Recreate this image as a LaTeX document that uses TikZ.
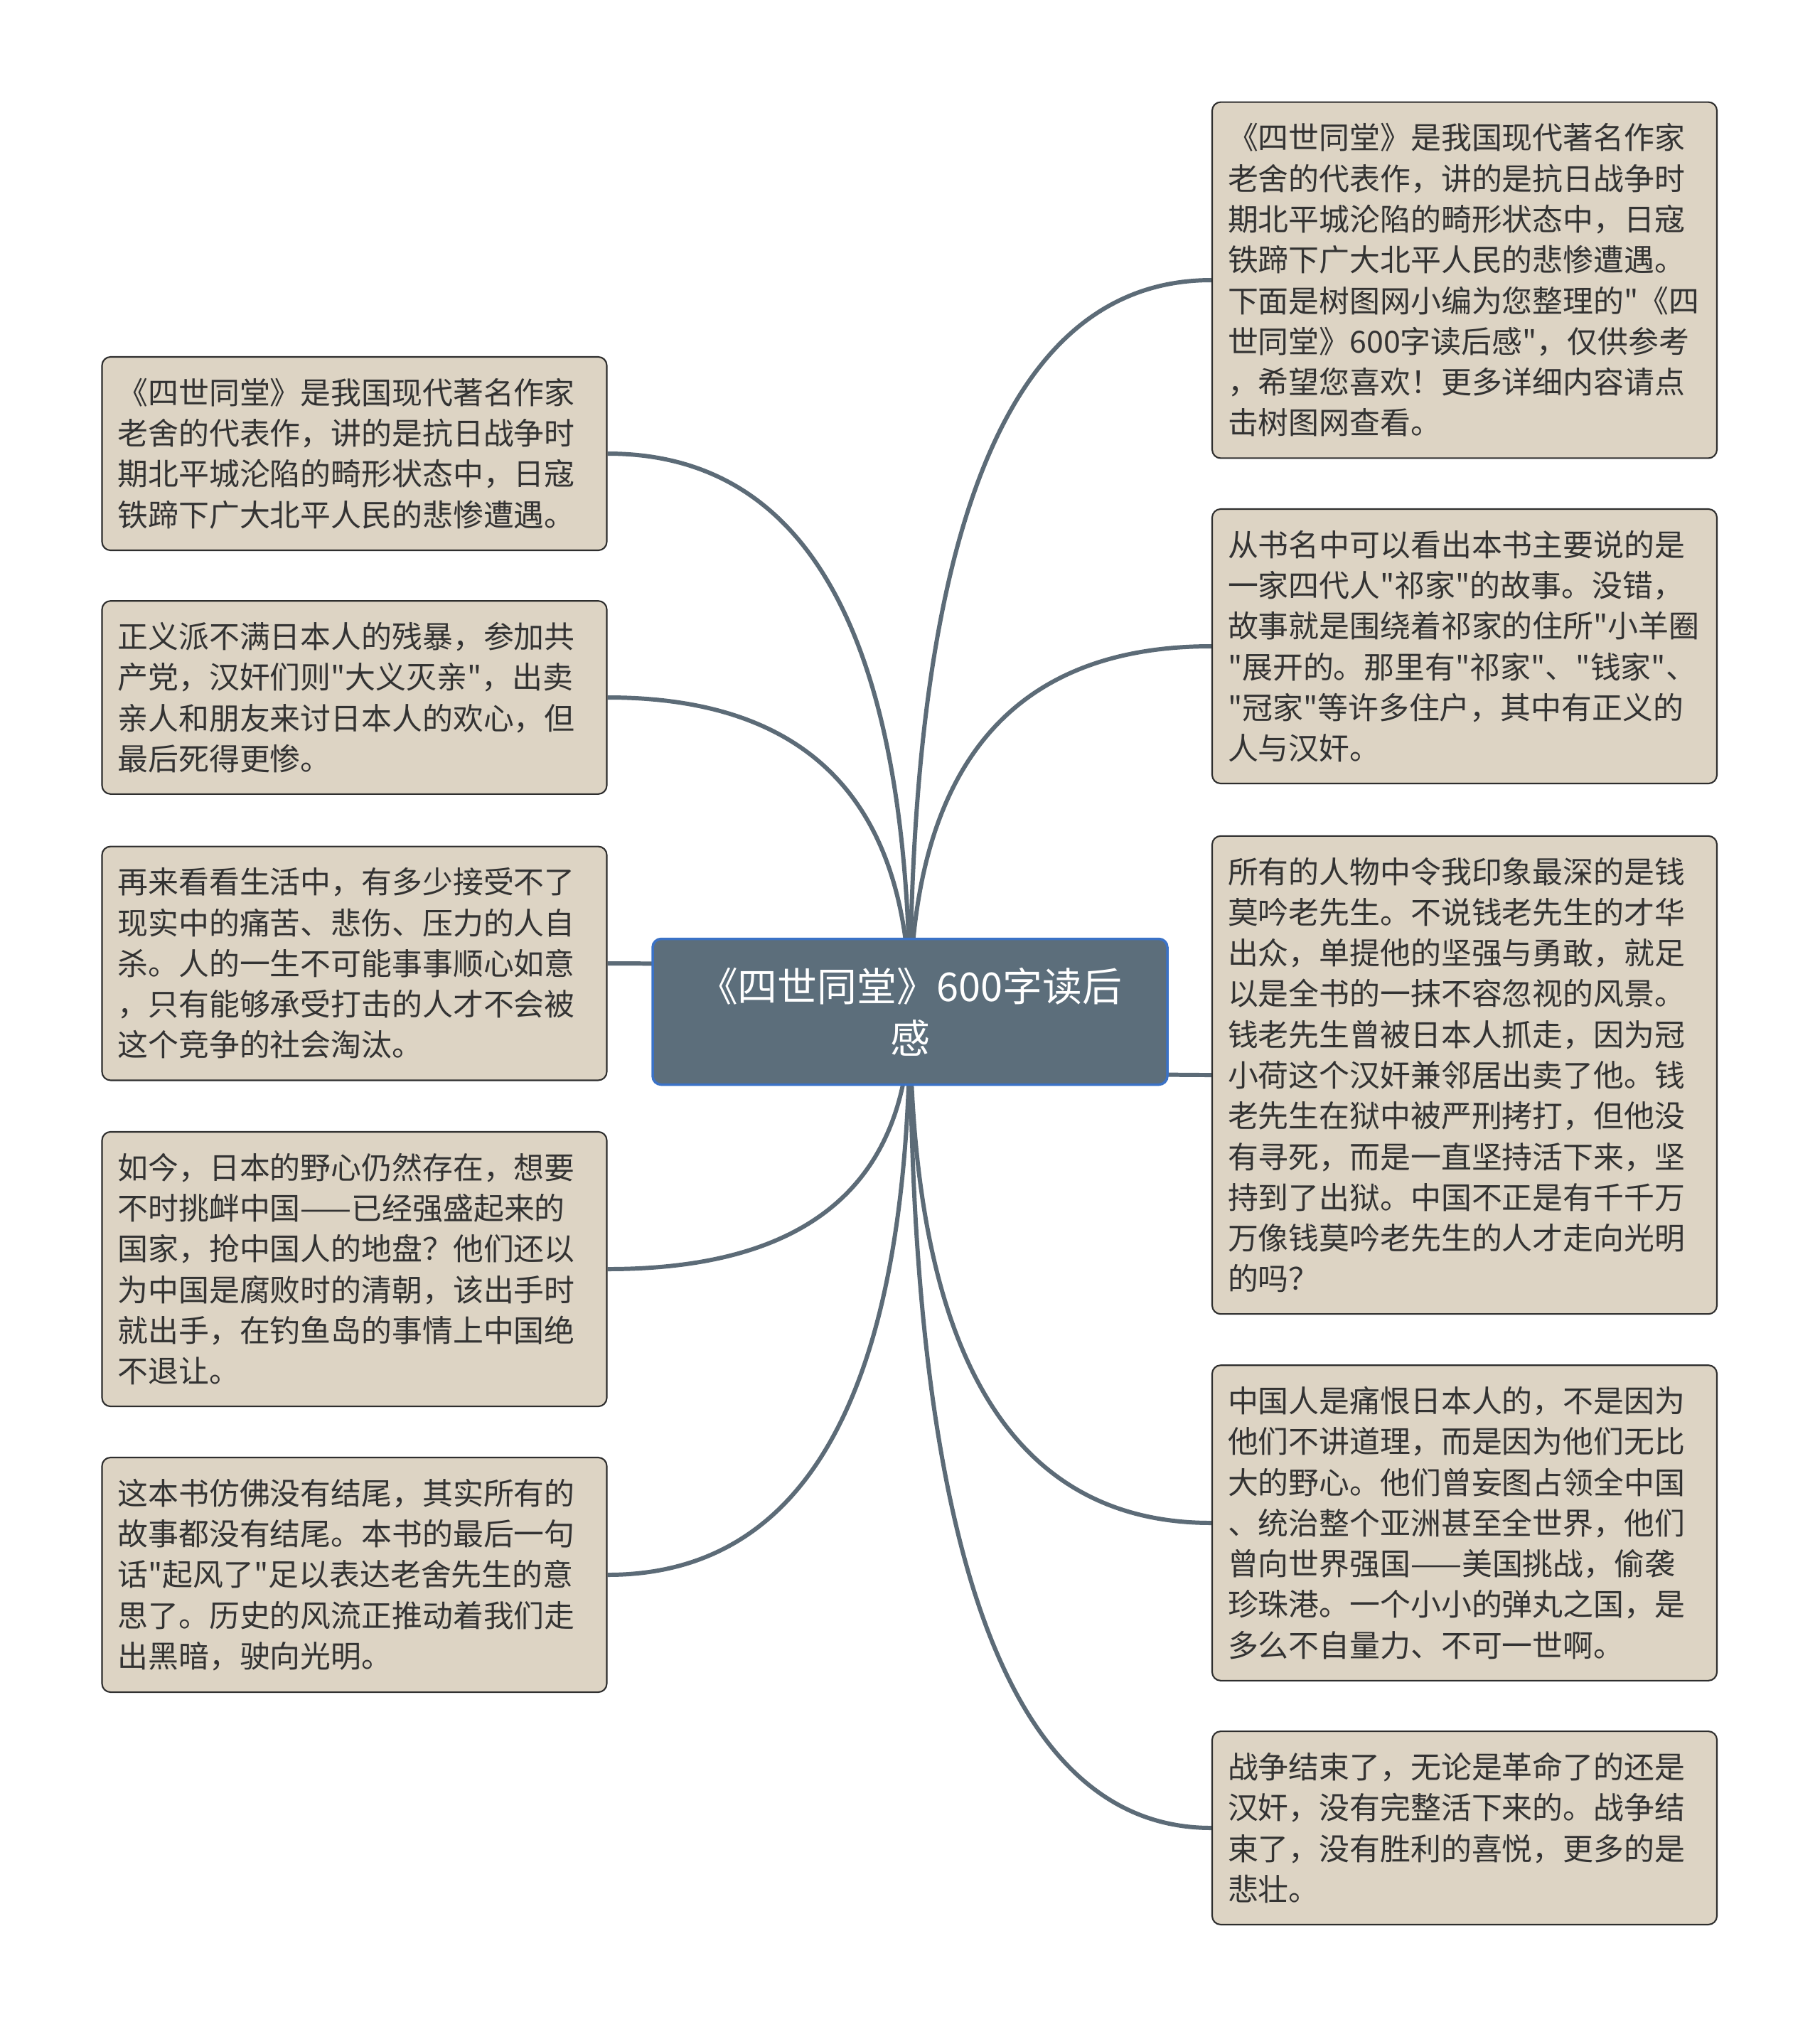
\documentclass[tikz,border=0pt]{standalone}
\usepackage{fontspec}
\newfontfamily\cjkfont{Noto Sans CJK SC}
\usetikzlibrary{calc,backgrounds}

\definecolor{notefill}{HTML}{DDD4C4}
\definecolor{noteline}{HTML}{2E2E2E}
\definecolor{notetext}{HTML}{333333}
\definecolor{rootfill}{HTML}{5C6E7B}
\definecolor{rootline}{HTML}{3B72C6}
\definecolor{linkgray}{HTML}{5C6B77}

\begin{document}
\begin{tikzpicture}[
        note/.style={draw=noteline, line width=0.6pt, fill=notefill, rounded corners=0.12cm,
            text width=6.66cm, inner xsep=0.22cm, inner ysep=0.3cm, align=left, text=notetext,
            font=\cjkfont\fontsize{12.2pt}{16.3pt}\selectfont},
        topic/.style={draw=rootline, line width=1pt, fill=rootfill, rounded corners=0.12cm,
            minimum width=7.24cm, minimum height=2.05cm, align=center, text=white,
            font=\cjkfont\fontsize{15.9pt}{20.7pt}\selectfont},
        branch/.style={draw=linkgray, line width=1.7pt,
            to path={.. controls ($(\tikztostart)!0.667!(\tikztostart |- \tikztotarget)$)
                and ($(\tikztotarget)!0.667!(\tikztostart |- \tikztotarget)$) .. (\tikztotarget)}}
    ]
        \useasboundingbox (0,0) rectangle (25.6,-28.51);

        % Central topic
        \node[topic] (root) at (12.80,-14.23) {《四世同堂》600字读后\\感};

        % Notes on the right
        \node[note] (r1) at (20.60,-3.94) {《四世同堂》是我国现代著名作家\\
老舍的代表作，讲的是抗日战争时\\
期北平城沦陷的畸形状态中，日寇\\
铁蹄下广大北平人民的悲惨遭遇。\\
下面是树图网小编为您整理的"《四\\
世同堂》600字读后感"，仅供参考\\
，希望您喜欢！更多详细内容请点\\
击树图网查看。};
        \node[note] (r2) at (20.60,-9.09) {从书名中可以看出本书主要说的是\\
一家四代人"祁家"的故事。没错，\\
故事就是围绕着祁家的住所"小羊圈\\
"展开的。那里有"祁家"、"钱家"、\\
"冠家"等许多住户，其中有正义的\\
人与汉奸。};
        \node[note] (r3) at (20.60,-15.12) {所有的人物中令我印象最深的是钱\\
莫吟老先生。不说钱老先生的才华\\
出众，单提他的坚强与勇敢，就足\\
以是全书的一抹不容忽视的风景。\\
钱老先生曾被日本人抓走，因为冠\\
小荷这个汉奸兼邻居出卖了他。钱\\
老先生在狱中被严刑拷打，但他没\\
有寻死，而是一直坚持活下来，坚\\
持到了出狱。中国不正是有千千万\\
万像钱莫吟老先生的人才走向光明\\
的吗？};
        \node[note] (r4) at (20.60,-21.42) {中国人是痛恨日本人的，不是因为\\
他们不讲道理，而是因为他们无比\\
大的野心。他们曾妄图占领全中国\\
、统治整个亚洲甚至全世界，他们\\
曾向世界强国——美国挑战，偷袭\\
珍珠港。一个小小的弹丸之国，是\\
多么不自量力、不可一世啊。};
        \node[note] (r5) at (20.60,-25.71) {战争结束了，无论是革命了的还是\\
汉奸，没有完整活下来的。战争结\\
束了，没有胜利的喜悦，更多的是\\
悲壮。};

        % Notes on the left
        \node[note] (l1) at (4.985,-6.38) {《四世同堂》是我国现代著名作家\\
老舍的代表作，讲的是抗日战争时\\
期北平城沦陷的畸形状态中，日寇\\
铁蹄下广大北平人民的悲惨遭遇。};
        \node[note] (l2) at (4.985,-9.81) {正义派不满日本人的残暴，参加共\\
产党，汉奸们则"大义灭亲"，出卖\\
亲人和朋友来讨日本人的欢心，但\\
最后死得更惨。};
        \node[note] (l3) at (4.985,-13.55) {再来看看生活中，有多少接受不了\\
现实中的痛苦、悲伤、压力的人自\\
杀。人的一生不可能事事顺心如意\\
，只有能够承受打击的人才不会被\\
这个竞争的社会淘汰。};
        \node[note] (l4) at (4.985,-17.85) {如今，日本的野心仍然存在，想要\\
不时挑衅中国——已经强盛起来的\\
国家，抢中国人的地盘？他们还以\\
为中国是腐败时的清朝，该出手时\\
就出手，在钓鱼岛的事情上中国绝\\
不退让。};
        \node[note] (l5) at (4.985,-22.15) {这本书仿佛没有结尾，其实所有的\\
故事都没有结尾。本书的最后一句\\
话"起风了"足以表达老舍先生的意\\
思了。历史的风流正推动着我们走\\
出黑暗，驶向光明。};

        % Curved branches, kept behind the central topic
        \begin{scope}[on background layer]
            \fill[white] (0,0) rectangle (25.6,-28.51);
            \draw[branch] (root.center) to (r1.west);
            \draw[branch] (root.center) to (r2.west);
            \draw[branch] (root.center) to (r3.west);
            \draw[branch] (root.center) to (r4.west);
            \draw[branch] (root.center) to (r5.west);
            \draw[branch] (root.center) to (l1.east);
            \draw[branch] (root.center) to (l2.east);
            \draw[branch] (root.center) to (l3.east);
            \draw[branch] (root.center) to (l4.east);
            \draw[branch] (root.center) to (l5.east);
        \end{scope}
    \end{tikzpicture}
\end{document}
